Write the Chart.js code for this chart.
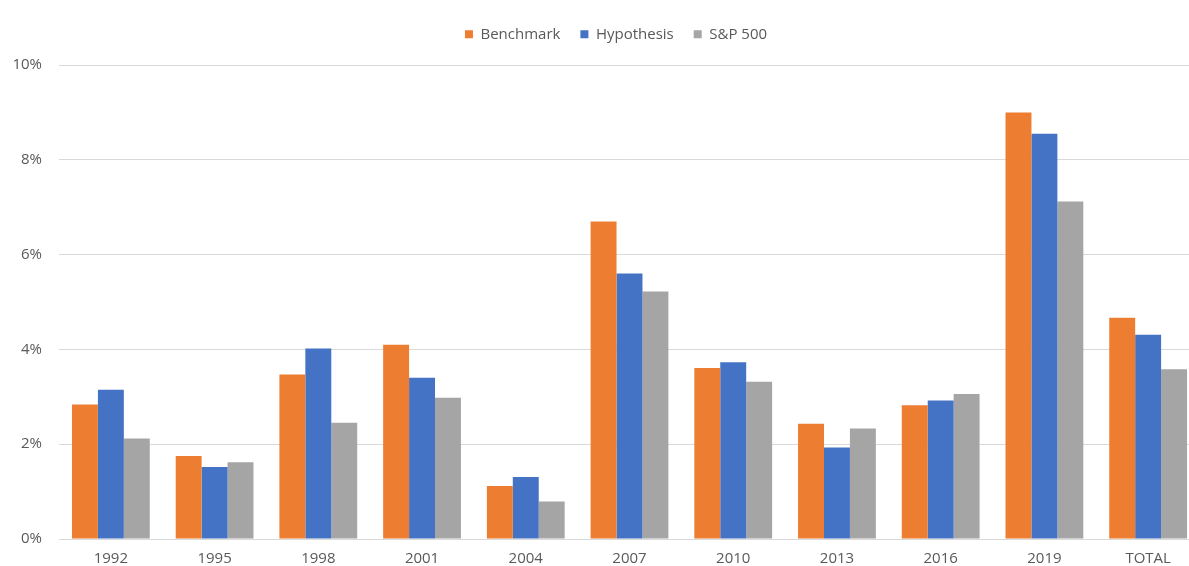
<!DOCTYPE html>
<html>
<head>
<meta charset="utf-8">
<script src="https://cdn.jsdelivr.net/npm/chart.js@4"></script>
<style>
  html, body { margin: 0; padding: 0; background: #ffffff; overflow: hidden; }
  #wrap { width: 1232px; height: 566px; }
</style>
</head>
<body>
<div id="wrap"><canvas id="chart" width="1232" height="566"></canvas></div>
<script>
// Period labels
const categories = ['1992', '1995', '1998', '2001', '2004', '2007', '2010', '2013', '2016', '2019', 'TOTAL'];

// Returns per period, in percent
const benchmark  = [2.84, 1.75, 3.47, 4.10, 1.12, 6.70, 3.61, 2.43, 2.82, 9.00, 4.67];
const hypothesis = [3.15, 1.52, 4.02, 3.40, 1.31, 5.60, 3.73, 1.93, 2.92, 8.55, 4.31];
const sp500      = [2.12, 1.62, 2.45, 2.98, 0.79, 5.22, 3.32, 2.33, 3.06, 7.12, 3.58];

// Value axis ticks
const yTicks = [0, 2, 4, 6, 8, 10];

const seriesNames = ['Benchmark', 'Hypothesis', 'S&P 500'];
const seriesColors = ['#ED7D31', '#4472C4', '#A5A5A5'];

const FONT = "'Open Sans', 'Liberation Sans', sans-serif";
const TEXT = '#595959';
const GRID = '#D9D9D9';

// Extra room under the legend row
const legendSpacer = {
  id: 'legendSpacer',
  afterInit(chart) {
    const legend = chart.legend;
    if (!legend) return;
    const fit = legend.fit.bind(legend);
    legend.fit = function () {
      fit();
      this.height += 13.2;
    };
  }
};

new Chart(document.getElementById('chart'), {
  type: 'bar',
  data: {
    labels: categories,
    datasets: [benchmark, hypothesis, sp500].map((values, i) => ({
      label: seriesNames[i],
      data: values,
      backgroundColor: seriesColors[i],
      borderWidth: 0,
      categoryPercentage: 0.75,
      barPercentage: 1.0
    }))
  },
  options: {
    responsive: false,
    animation: false,
    devicePixelRatio: 1,
    layout: { padding: { top: 6.8, right: 0, bottom: 0, left: 0 } },
    plugins: {
      legend: {
        position: 'top',
        align: 'center',
        labels: {
          boxWidth: 8,
          boxHeight: 8,
          padding: 20,
          color: TEXT,
          font: { family: FONT, size: 15 }
        }
      },
      tooltip: { enabled: false }
    },
    scales: {
      x: {
        grid: { display: false, drawTicks: false },
        border: { display: true, color: GRID, width: 1 },
        ticks: {
          color: TEXT,
          padding: 11,
          font: { family: FONT, size: 15 },
          maxRotation: 0
        },
        afterFit(scale) { scale.height = 27; }
      },
      y: {
        min: 0,
        max: 10,
        afterBuildTicks(scale) { scale.ticks = yTicks.map(v => ({ value: v })); },
        grid: { color: GRID, lineWidth: 1, drawTicks: false },
        border: { display: false },
        ticks: {
          color: TEXT,
          padding: 17,
          font: { family: FONT, size: 15 },
          callback: v => v + '%'
        },
        afterFit(scale) { scale.width = 59; }
      },
      // Empty right-hand margin beside the plot
      yRight: {
        position: 'right',
        min: 0,
        max: 10,
        grid: { display: false, drawTicks: false },
        border: { display: false },
        ticks: { display: false },
        afterFit(scale) { scale.width = 32; }
      }
    }
  },
  plugins: [legendSpacer]
});
</script>
</body>
</html>
